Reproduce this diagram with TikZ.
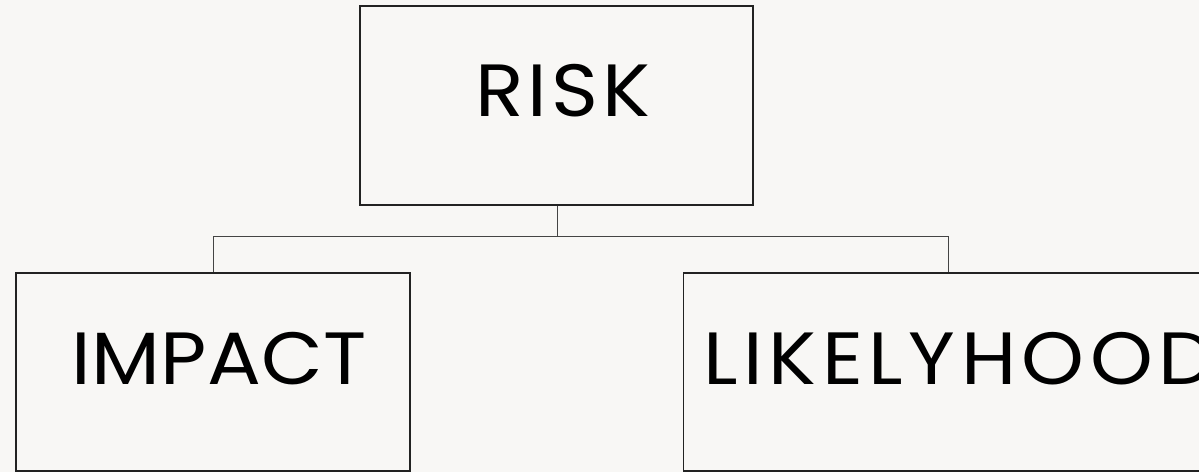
\documentclass[tikz,border=0pt]{standalone}
\usepackage{fontspec}
\setmainfont{Poppins}
\definecolor{bg}{HTML}{F8F7F5}
\definecolor{boxline}{HTML}{222222}
\definecolor{connline}{HTML}{444444}
\newcommand{\widetext}[2]{\scalebox{1.08}[1]{\addfontfeatures{LetterSpace=#1}#2}}
\tikzset{
  box/.style={draw=boxline, line width=1.3pt, rectangle, inner sep=0pt},
  lbl/.style={font=\fontsize{74}{74}\selectfont, text=black, inner sep=0pt},
  conn/.style={draw=connline, line width=1pt}
}
\begin{document}
\begin{tikzpicture}[x=1pt,y=1pt]
\useasboundingbox (0,0) rectangle (1199,472);
\clip (0,0) rectangle (1199,472);
\fill[bg] (0,0) rectangle (1199,472);
% boxes
\node[box, minimum width=393pt, minimum height=199pt] (risk) at (556.5,366.5) {};
\node[box, minimum width=394pt, minimum height=198pt] (impact) at (213,100) {};
\node[box, minimum width=540pt, minimum height=198pt, anchor=west] (likely) at (683,100) {};
% labels
\node[lbl, anchor=base west] (risktext) at (475,355) {\widetext{5}{RISK}};
\node[lbl, anchor=base west] (impacttext) at (71,88) {\widetext{0.5}{IMPACT}};
\node[lbl, anchor=base west] (likelytext) at (703,88) {\widetext{7}{LIKELYHOOD}};
% connectors
\coordinate (junction) at (557,236);
\draw[conn] (risk.south -| junction) -- (junction);
\draw[conn] (impact.north) |- (junction);
\draw[conn] (likely.north -| 948,0) |- (junction);
\end{tikzpicture}
\end{document}
